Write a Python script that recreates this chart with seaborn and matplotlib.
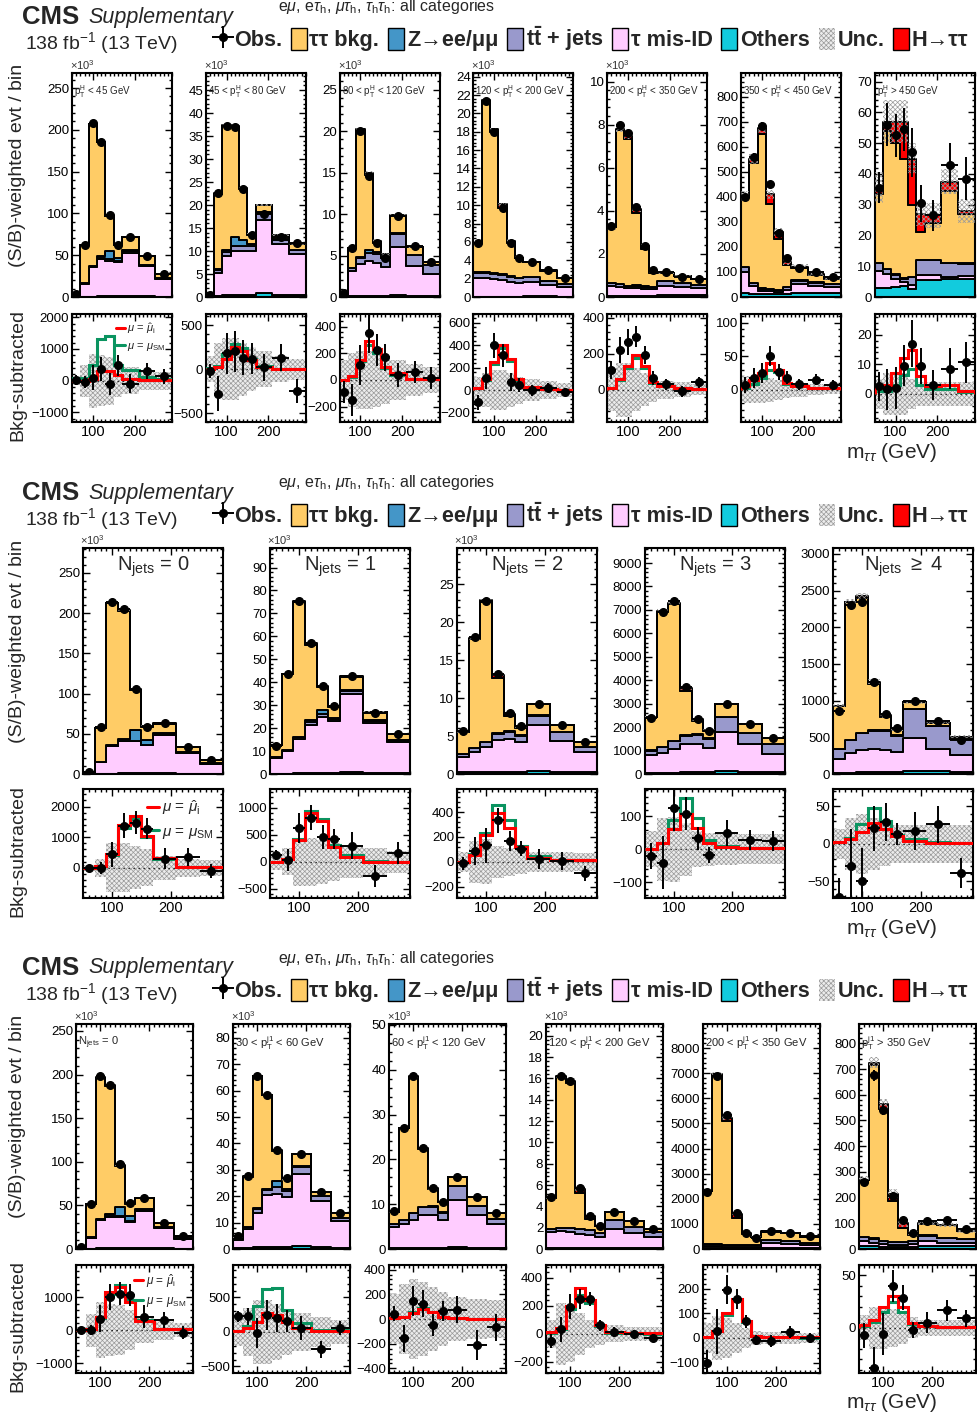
import numpy as np
import pandas as pd
import matplotlib
matplotlib.use("Agg")
import matplotlib.pyplot as plt
from matplotlib.ticker import MultipleLocator, AutoMinorLocator
from matplotlib.patches import Patch
import seaborn as sns

# ---------------------------------------------------------------- binning
EDGES = [50, 70, 90, 110, 130, 150, 170, 210, 250, 290]
MASS = [60, 80, 100, 120, 140, 160, 190, 230, 270]

# ---------------------------------------------------------------- pT(H) bins
PTH_LABELS = [r"p$_\mathrm{T}^\mathrm{H}$ < 45 GeV", r"45 < p$_\mathrm{T}^\mathrm{H}$ < 80 GeV",
              r"80 < p$_\mathrm{T}^\mathrm{H}$ < 120 GeV", r"120 < p$_\mathrm{T}^\mathrm{H}$ < 200 GeV",
              r"200 < p$_\mathrm{T}^\mathrm{H}$ < 350 GeV", r"350 < p$_\mathrm{T}^\mathrm{H}$ < 450 GeV",
              r"p$_\mathrm{T}^\mathrm{H}$ > 450 GeV"]
PTH_SCALE = [1000, 1000, 1000, 1000, 1000, 1, 1]
PTH_OBS = [[3, 62, 208, 186, 98, 62, 72, 49, 28],
           [0.5, 22.6, 37.2, 37, 23.5, 13.5, 18, 13, 11.7],
           [0.5, 5.9, 20, 14.6, 6.5, 4.7, 9.8, 6.1, 4.2],
           [5.9, 21.4, 18, 9.7, 5.9, 4.2, 3.8, 2.9, 2.1],
           [3.3, 8.0, 7.6, 4.2, 2.35, 1.25, 1.15, 0.95, 0.85],
           [400, 560, 685, 450, 255, 155, 115, 100, 80],
           [35.5, 56, 52.5, 54.5, 47, 30.5, 26.5, 43, 38.5]]
PTH_ZTT = [[1.5, 45.4, 169.5, 135.5, 42, 15.5, 15.8, 10.4, 4.5],
           [0.15, 16.5, 27, 24, 11, 2, 1.5, 0.8, 1.2],
           [0.2, 2.35, 15.2, 9.0, 1.1, 0.3, 2.1, 1.0, 0.4],
           [3.2, 18.7, 15.4, 7.2, 3.6, 2.1, 1.6, 1.1, 0.65],
           [2.57, 7.14, 6.82, 3.34, 1.74, 0.65, 0.37, 0.31, 0.24],
           [279, 480, 616, 339, 201, 88, 49, 29, 22],
           [22.4, 44.9, 42.6, 38.9, 23.4, 8.9, 11.9, 23.3, 16.1]]
PTH_ZLL = [[0.1, 0.3, 0.8, 2.5, 10, 3.5, 1.5, 0.6, 0.3],
           [0, 0.2, 0.5, 2, 1.5, 0.5, 0.3, 0.2, 0.1],
           [0, 0.05, 0.1, 0.3, 0.3, 0.1, 0.05, 0.02, 0.01],
           [0.02, 0.02, 0.05, 0.1, 0.1, 0.05, 0.02, 0.02, 0.01],
           [0.01, 0.01, 0.01, 0.02, 0.02, 0.01, 0.01, 0.01, 0.01],
           [1, 1, 1, 1, 1, 1, 1, 1, 1],
           [0.1, 0.1, 0.1, 0.1, 0.1, 0.1, 0.1, 0.1, 0.1]]
PTH_TT = [[0.2, 0.5, 1.0, 1.4, 1.4, 1.4, 1.8, 1.4, 0.8],
          [0.1, 0.5, 0.8, 1.0, 1.0, 1.0, 1.4, 1.0, 0.8],
          [0.05, 0.4, 0.8, 1.0, 1.0, 1.0, 1.6, 1.3, 1.0],
          [0.6, 0.6, 0.6, 0.55, 0.5, 0.5, 0.6, 0.5, 0.4],
          [0.15, 0.15, 0.12, 0.12, 0.12, 0.12, 0.2, 0.18, 0.15],
          [20, 12, 8, 8, 8, 12, 15, 12, 10],
          [2.5, 1.5, 1.5, 1.0, 2.5, 5.0, 5.0, 4.5, 4.0]]
PTH_FAKE = [[0.5, 15.5, 35, 45, 43, 41, 52, 36, 21.5],
            [0.2, 5, 8.5, 9.5, 9.5, 9.5, 16, 11, 9],
            [0.2, 3.0, 3.8, 4.2, 4.0, 3.5, 5.8, 3.6, 2.7],
            [2.0, 2.0, 1.9, 1.8, 1.6, 1.5, 1.5, 1.2, 1.0],
            [0.45, 0.4, 0.35, 0.35, 0.3, 0.3, 0.45, 0.4, 0.35],
            [85, 30, 15, 12, 10, 15, 35, 30, 25],
            [5.5, 4.5, 2.5, 1.5, 1.5, 1.5, 1.5, 0.8, 1.0]]
PTH_OTH = [[0.1, 0.3, 0.5, 0.6, 0.6, 0.6, 0.9, 0.6, 0.4],
           [0.05, 0.3, 0.4, 0.5, 0.5, 0.5, 0.8, 0.5, 0.4],
           [0.02, 0.1, 0.15, 0.15, 0.15, 0.15, 0.25, 0.15, 0.1],
           [0.05, 0.05, 0.05, 0.05, 0.05, 0.05, 0.08, 0.06, 0.05],
           [0.05, 0.05, 0.05, 0.05, 0.05, 0.05, 0.08, 0.07, 0.07],
           [15, 12, 10, 10, 10, 12, 15, 15, 15],
           [3, 3, 3.3, 3.5, 2.5, 5.5, 5.5, 5.8, 5.8]]
PTH_SUB = [[30, -40, 100, 380, -95, 480, -95, 295, 137],
           [-20, -280, 180, 200, 130, 120, 20, 130, -250],
           [-90, -150, 110, 350, 225, 170, 40, 60, 15],
           [-110, 110, 400, 310, 70, 45, 0, 20, -20],
           [110, 220, 265, 295, 195, 65, 30, -10, 40],
           [7, 18, 25, 50, 27, 18, 8, 15, 7],
           [2.5, 1.5, 2, 9.5, 17, 9.5, 3, 8.5, 10.7]]
PTH_ERR = [[150, 200, 380, 380, 350, 330, 300, 250, 230],
           [80, 200, 230, 230, 200, 180, 150, 150, 140],
           [80, 120, 150, 150, 120, 100, 90, 80, 80],
           [70, 100, 110, 100, 80, 60, 50, 40, 35],
           [50, 70, 70, 60, 50, 40, 30, 30, 30],
           [12, 15, 15, 15, 12, 10, 8, 8, 7],
           [5, 7, 7, 7, 8, 6, 5, 7, 7]]
PTH_FIT = [[0, 0, 60, 300, 300, 170, 60, 20, 20],
           [0, 20, 120, 250, 200, 100, 20, 5, 0],
           [0, 30, 150, 290, 230, 100, 50, 10, 5],
           [20, 100, 250, 400, 280, 100, 30, 10, 5],
           [10, 60, 130, 190, 130, 40, 20, 10, 5],
           [5, 15, 25, 40, 30, 10, 5, 3, 2],
           [2, 3, 7, 12, 15, 6, 2.5, 3, 1]]
PTH_SM = [[80, 80, 500, 1300, 1420, 500, 350, 115, 60],
          [10, 40, 170, 280, 240, 120, 30, 5, 0],
          [0, 25, 140, 260, 200, 90, 40, 8, 4],
          [15, 90, 230, 380, 260, 90, 25, 8, 4],
          [8, 55, 120, 175, 120, 35, 18, 8, 4],
          [2, 9, 18, 30, 26, 9, 5, 3, 2],
          [1, 1, 3, 6.5, 8.5, 3, 1.5, 1.5, 0.8]]
PTH_UNC = [[150, 500, 850, 800, 750, 520, 420, 280, 280],
           [150, 300, 350, 350, 300, 250, 200, 150, 120],
           [150, 200, 220, 220, 200, 180, 150, 120, 100],
           [120, 150, 180, 180, 150, 120, 100, 80, 60],
           [120, 150, 150, 120, 90, 70, 50, 40, 30],
           [20, 20, 20, 18, 15, 12, 10, 8, 6],
           [5, 7, 7, 7, 5, 4, 4, 4, 4]]

# ---------------------------------------------------------------- N(jets) bins
NJ_LABELS = [r"N$_\mathrm{jets}$ = 0", r"N$_\mathrm{jets}$ = 1", r"N$_\mathrm{jets}$ = 2",
             r"N$_\mathrm{jets}$ = 3", r"N$_\mathrm{jets}$ $\geq$ 4"]
NJ_SCALE = [1000, 1000, 1000, 1, 1]
NJ_OBS = [[3, 58, 214, 205, 106, 59, 64, 33, 17],
          [12, 43.5, 75.5, 57, 38.5, 29.5, 42.5, 26.5, 17.5],
          [5.7, 18, 22.8, 13.2, 8.1, 6.3, 9.2, 6.4, 4.2],
          [2400, 6900, 7400, 3700, 2350, 1850, 3000, 2150, 1550],
          [860, 2300, 2340, 1260, 820, 630, 990, 720, 470]]
NJ_ZTT = [[0.8, 42.1, 176.6, 158.8, 50, 16.2, 11.7, 5.4, 3.7],
          [5.1, 32.9, 58.8, 32.7, 9.8, 4.7, 5.8, 3.5, 2.8],
          [2.9, 14.45, 18.45, 7.15, 2.0, 1.0, 1.5, 1.0, 0.6],
          [1415, 5771, 5818, 1882, 576, 321, 557, 387, 252],
          [586, 1880, 1839, 634, 180, 75, 91, 46, 27]]
NJ_ZLL = [[0, 0.3, 0.8, 2.5, 13, 6.5, 1.0, 0.4, 0.2],
          [0, 0, 0.3, 0.8, 1.8, 0.5, 0.3, 0.2, 0.1],
          [0, 0, 0.05, 0.15, 0.2, 0.1, 0.05, 0, 0],
          [5, 10, 20, 30, 40, 20, 15, 10, 5],
          [2, 3, 5, 8, 10, 5, 5, 3, 2]]
NJ_TT = [[0.05, 0.2, 0.5, 0.6, 0.6, 0.6, 1.0, 0.6, 0.3],
         [0.3, 0.4, 0.7, 1.2, 1.2, 1.0, 1.3, 1.2, 0.8],
         [0.3, 0.5, 0.7, 0.8, 0.9, 0.8, 1.3, 1.1, 0.7],
         [200, 250, 320, 370, 380, 370, 620, 480, 400],
         [130, 180, 230, 250, 260, 220, 390, 310, 220]]
NJ_FAKE = [[0.3, 14, 34, 40, 40, 35, 48, 26, 12.5],
           [7, 10, 15, 21, 24.5, 22.5, 34, 21.5, 13.5],
           [2.1, 2.65, 3.25, 4.2, 4.3, 3.9, 6.0, 4.1, 2.65],
           [760, 850, 1020, 1190, 1190, 1050, 1690, 1180, 790],
           [195, 260, 305, 315, 300, 270, 445, 305, 230]]
NJ_OTH = [[0.05, 0.3, 0.6, 0.7, 0.7, 0.7, 1.0, 0.6, 0.3],
          [0.1, 0.2, 0.3, 0.4, 0.5, 0.5, 1.0, 0.6, 0.3],
          [0.2, 0.25, 0.25, 0.3, 0.3, 0.3, 0.4, 0.3, 0.25],
          [40, 50, 60, 70, 80, 80, 110, 90, 80],
          [15, 20, 25, 25, 30, 30, 45, 35, 30]]
NJ_SUB = [[0, 0, 440, 1380, 1470, 1280, 300, 360, -100],
          [130, 37, 630, 815, 463, 425, 296, -260, 167],
          [-13, 88, 133, 333, 165, 107, 24, 8, -93],
          [-21, -41, 124, 108, 34, -18, 49, 29, 26],
          [-71, -30, -50, 21, 29, 13, 17, 26, -39]]
NJ_ERR = [[100, 200, 400, 400, 380, 350, 350, 300, 220],
          [100, 200, 270, 230, 220, 180, 250, 200, 200],
          [50, 110, 140, 100, 80, 60, 80, 70, 60],
          [40, 80, 70, 50, 35, 25, 40, 30, 30],
          [25, 50, 45, 30, 25, 15, 25, 25, 20]]
NJ_FIT = [[0, 50, 450, 1400, 1700, 1050, 330, 30, 20],
          [0, 50, 400, 900, 750, 280, 100, 0, 0],
          [0, 53, 213, 395, 275, 120, 35, 13, 13],
          [0, 19, 62, 108, 64, 19, 8, 3, 3],
          [2, 7, 16, 28, 20, 10, 4, 1, 1]]
NJ_SM = [[0, 50, 420, 1300, 1600, 1000, 300, 30, 15],
         [0, 50, 420, 950, 800, 320, 120, 10, 5],
         [0, 60, 235, 460, 340, 130, 45, 13, 13],
         [0, 20, 89, 155, 96, 29, 11, 3, 3],
         [2, 8, 26, 48, 30, 12, 6, 2, 1]]
NJ_UNC = [[100, 300, 800, 800, 700, 600, 400, 300, 250],
          [150, 250, 450, 450, 400, 350, 300, 250, 200],
          [80, 170, 180, 130, 110, 100, 80, 80, 70],
          [54, 95, 98, 80, 55, 50, 48, 45, 45],
          [20, 35, 40, 35, 30, 25, 25, 25, 25]]

# ---------------------------------------------------------------- leading-jet pT bins
PTJ_LABELS = [r"N$_\mathrm{jets}$ = 0", r"30 < p$_\mathrm{T}^\mathrm{j1}$ < 60 GeV",
              r"60 < p$_\mathrm{T}^\mathrm{j1}$ < 120 GeV", r"120 < p$_\mathrm{T}^\mathrm{j1}$ < 200 GeV",
              r"200 < p$_\mathrm{T}^\mathrm{j1}$ < 350 GeV", r"p$_\mathrm{T}^\mathrm{j1}$ > 350 GeV"]
PTJ_SCALE = [1000, 1000, 1000, 1000, 1, 1]
PTJ_OBS = [[2, 52, 198, 188, 97, 53, 59, 30, 15],
           [5, 27.5, 65.5, 58.5, 37.5, 27, 36, 21.5, 13.5],
           [8.5, 27, 38.5, 22.5, 13.5, 10.5, 16, 11.5, 8],
           [4.9, 16.2, 15.8, 5.7, 3.1, 2.2, 3.5, 2.6, 1.9],
           [2250, 6900, 5350, 1450, 650, 450, 700, 620, 500],
           [262, 675, 540, 205, 112, 62, 108, 112, 78]]
PTJ_ZTT = [[0.7, 38.4, 162.4, 146.5, 46.9, 14.35, 13, 4.7, 2.6],
           [0.5, 18.9, 50, 35.4, 11.45, 3.8, 4.6, 1.3, 1.8],
           [2.8, 20.5, 30.4, 13.0, 3.94, 2.28, 1.95, 2.0, 1.2],
           [2.93, 14.2, 13.63, 3.39, 1.07, 0.62, 0.76, 0.49, 0.31],
           [2083, 6728, 4953, 1093, 433, 308, 343, 335, 236],
           [221, 676, 514, 158, 53, 24, 45, 50, 31]]
PTJ_ZLL = [[0, 0.5, 1, 2.5, 10, 6, 1, 0.3, 0.1],
           [0, 0.1, 0.3, 0.5, 2.5, 0.5, 0.2, 0.1, 0],
           [0, 0, 0.05, 0.1, 0.2, 0.1, 0.05, 0, 0],
           [0.01, 0.01, 0.02, 0.03, 0.04, 0.02, 0.01, 0.01, 0.01],
           [2, 2, 2, 2, 2, 2, 2, 2, 2],
           [1, 1, 1, 1, 1, 1, 1, 1, 1]]
PTJ_TT = [[0.05, 0.3, 0.5, 1.0, 1.0, 1.0, 1.5, 0.7, 0.4],
          [0.5, 0.8, 1.5, 2, 2.5, 2.3, 2.8, 1.8, 1.2],
          [0.5, 1.0, 1.5, 1.8, 1.8, 1.6, 3.0, 2.0, 1.3],
          [0.25, 0.3, 0.4, 0.4, 0.4, 0.4, 0.8, 0.6, 0.5],
          [80, 80, 60, 60, 60, 70, 120, 110, 100],
          [15, 15, 12, 10, 10, 12, 20, 18, 15]]
PTJ_FAKE = [[0.4, 12.5, 32, 36, 36, 30, 42, 23.5, 11.5],
            [3.2, 7.2, 13, 19.5, 20, 19, 27, 17.5, 10],
            [4.8, 5.3, 6.2, 7.2, 7.2, 6.2, 10.5, 7.2, 5.3],
            [1.55, 1.6, 1.5, 1.4, 1.3, 1.05, 1.8, 1.4, 1.0],
            [100, 80, 60, 60, 60, 60, 180, 150, 100],
            [20, 15, 10, 8, 8, 10, 20, 15, 12]]
PTJ_OTH = [[0.05, 0.3, 0.7, 0.8, 0.8, 0.8, 1.2, 0.8, 0.4],
           [0.3, 0.4, 0.6, 0.8, 0.8, 0.8, 1.3, 0.8, 0.5],
           [0.2, 0.2, 0.3, 0.3, 0.3, 0.3, 0.5, 0.3, 0.2],
           [0.05, 0.05, 0.05, 0.05, 0.05, 0.05, 0.12, 0.1, 0.08],
           [30, 30, 25, 25, 25, 30, 50, 40, 40],
           [10, 10, 8, 8, 8, 8, 12, 10, 10]]
PTJ_SUB = [[0, 0, 350, 1000, 1100, 1050, 400, 300, -80],
           [224, 224, -14, 248, 200, 152, 57, -252, 57],
           [43, -155, 145, 125, -46, 62, 76, -208, -68],
           [-53, 32, 195, 248, 252, 60, 12, 0, -29],
           [-100, 27, 196, 157, 67, -9, -13, 24, 0],
           [-7, -38, -6, 40, 29, -2, 5, 17, 9]]
PTJ_ERR = [[100, 150, 400, 380, 350, 330, 350, 250, 200],
           [80, 120, 220, 220, 200, 160, 180, 120, 100],
           [60, 110, 120, 110, 90, 80, 110, 120, 110],
           [50, 90, 90, 70, 50, 40, 35, 30, 30],
           [50, 90, 60, 40, 25, 20, 25, 25, 20],
           [12, 20, 20, 15, 12, 8, 10, 10, 8]]
PTJ_FIT = [[0, 30, 400, 1150, 1300, 850, 280, 30, 20],
           [10, 57, 150, 270, 250, 140, 57, 20, 20],
           [5, 20, 50, 80, 60, 20, 5, 3, 2],
           [10, 40, 200, 330, 240, 60, 10, 5, 3],
           [5, 30, 100, 160, 70, 10, 5, 3, 2],
           [3, 8, 20, 30, 20, 5, 2, 1, 1]]
PTJ_SM = [[0, 30, 380, 1100, 1350, 900, 300, 30, 20],
          [10, 80, 370, 615, 640, 320, 130, 25, 25],
          [5, 20, 60, 90, 55, 20, 5, 3, 2],
          [8, 35, 180, 280, 220, 55, 8, 4, 2],
          [4, 28, 95, 150, 65, 9, 4, 2, 1],
          [2, 6, 15, 25, 15, 4, 2, 1, 1]]
PTJ_UNC = [[100, 500, 850, 800, 750, 600, 400, 300, 200],
           [200, 350, 470, 470, 400, 330, 280, 220, 180],
           [200, 280, 320, 300, 260, 220, 180, 160, 150],
           [100, 220, 200, 150, 100, 80, 60, 50, 50],
           [60, 90, 80, 60, 40, 30, 25, 25, 20],
           [12, 20, 20, 18, 15, 10, 8, 8, 8]]

# ---------------------------------------------------------------- style
sns.set_style("ticks")
plt.rcParams["font.family"] = ["Liberation Sans", "DejaVu Sans"]
plt.rcParams["mathtext.fontset"] = "custom"
plt.rcParams["mathtext.rm"] = "Liberation Sans"
plt.rcParams["mathtext.it"] = "Liberation Sans:italic"
plt.rcParams["mathtext.bf"] = "Liberation Sans:bold"
plt.rcParams["hatch.linewidth"] = 0.5
plt.rcParams["hatch.color"] = "#9a9a9a"

ORDER = ["H", "ztt", "zll", "tt", "fake", "oth"]  # drawn top of stack first
PALETTE = {"H": "#FF0000", "ztt": "#FFCC66", "zll": "#4496C8",
           "tt": "#9999CC", "fake": "#FFCCFF", "oth": "#12CBDD"}
RED, GREEN = "#FF0000", "#0A9460"
HATCH = "xxxxxxx"
BAND_FACE = "#ececec"

W, H = 977, 1420
fig = plt.figure(figsize=(W / 100, H / 100), dpi=100)


def box(left, top, width, height):
    return [left / W, 1 - (top + height) / H, width / W, height / H]


def step_y(vals):
    vals = list(vals)
    return vals + [vals[-1]]


def finish_axis(ax, xlabels):
    ax.set_xlim(EDGES[0], EDGES[-1])
    ax.xaxis.set_major_locator(MultipleLocator(100))
    ax.xaxis.set_minor_locator(MultipleLocator(10))
    ax.yaxis.set_minor_locator(AutoMinorLocator(5))
    ax.tick_params(which="both", direction="in", top=True, right=True,
                   width=1, labelsize=9.5, pad=2, colors="black")
    ax.tick_params(which="major", length=5)
    ax.tick_params(which="minor", length=2.5)
    ax.tick_params(axis="x", labelbottom=xlabels, labelsize=10.5)
    ax.set_xlabel("")
    ax.set_ylabel("")
    for s in ax.spines.values():
        s.set_linewidth(1.5)
        s.set_color("black")


HALF = [(EDGES[i + 1] - EDGES[i]) / 2 for i in range(len(MASS))]


def draw_group(off, lefts, width, tops, g):
    top_y, top_h, bot_y, bot_h = tops
    obs_handle = None
    for i, left in enumerate(lefts):
        scale = g["scale"][i]
        # ---- stacked expectation
        ax = fig.add_axes(box(left, top_y, width, top_h))
        comps = {"H": np.array(g["fit"][i], float) / scale, "ztt": g["ztt"][i],
                 "zll": g["zll"][i], "tt": g["tt"][i], "fake": g["fake"][i],
                 "oth": g["oth"][i]}
        df = pd.DataFrame([(m, float(v), p) for p in ORDER for m, v in zip(MASS, comps[p])],
                          columns=["mass", "weight", "process"])
        sns.histplot(data=df, x="mass", weights="weight", hue="process",
                     hue_order=ORDER, palette=PALETTE, bins=EDGES,
                     multiple="stack", element="step", alpha=1,
                     edgecolor="black", linewidth=1.4, legend=False, ax=ax)
        total = sum(np.array(comps[p], float) for p in ORDER)
        unc = np.array(g["unc"][i], float) / scale
        ax.fill_between(EDGES, step_y(total - unc), step_y(total + unc), step="post",
                        facecolor="none", edgecolor="#9a9a9a", hatch=HATCH,
                        linewidth=0, zorder=3)
        cont = ax.errorbar(MASS, g["obs"][i], yerr=np.array(g["err"][i], float) / scale,
                           xerr=HALF, fmt="o", color="black", ms=5.5,
                           elinewidth=1.4, capsize=0, zorder=6)
        if obs_handle is None:
            obs_handle = cont
        ax.set_ylim(0, g["ymax"][i])
        ax.yaxis.set_major_locator(MultipleLocator(g["ystep"][i]))
        finish_axis(ax, False)
        if scale != 1:
            ax.text(-0.02, 1.003, r"$\times$10$^{3}$", transform=ax.transAxes,
                    fontsize=8, color="#333333", ha="left", va="bottom")
        if g["big_label"][i]:
            ax.text(0.5, 0.915, g["labels"][i], transform=ax.transAxes,
                    fontsize=14.5, ha="center", va="center")
        else:
            ax.text(0.02, 0.915, g["labels"][i], transform=ax.transAxes,
                    fontsize=g["label_size"], ha="left", va="center")

        # ---- background-subtracted panel
        bx = fig.add_axes(box(left, bot_y, width, bot_h))
        u = np.array(g["unc"][i], float)
        bx.fill_between(EDGES, step_y(-u), step_y(u), step="post",
                        facecolor=BAND_FACE, edgecolor="#9a9a9a", hatch=HATCH,
                        linewidth=0, zorder=1)
        bx.axhline(0, color="black", ls=(0, (1, 3)), lw=0.9, zorder=2)
        bx.stairs(g["sm"][i], EDGES, color=GREEN, lw=2.2, zorder=3,
                  label=r"$\mu$ = $\mu_\mathrm{SM}$")
        bx.stairs(g["fit"][i], EDGES, color=RED, lw=2.2, zorder=4,
                  label=r"$\mu$ = $\hat{\mu}_\mathrm{i}$")
        bx.errorbar(MASS, g["sub"][i], yerr=g["err"][i], xerr=HALF, fmt="o",
                    color="black", ms=5.5, elinewidth=1.4, capsize=0, zorder=6)
        bx.set_ylim(*g["rlim"][i])
        bx.yaxis.set_major_locator(MultipleLocator(g["rstep"][i]))
        finish_axis(bx, True)
        if i == 0:
            h, l = bx.get_legend_handles_labels()
            bx.legend(h[::-1], l[::-1], loc="upper right", frameon=False,
                      fontsize=g["leg_size"], handlelength=0.8, handletextpad=0.2,
                      labelspacing=0.5, borderaxespad=0.2)

    # ---- header
    fig.text(22 / W, 1 - (17 + off) / H, "CMS", fontsize=18.5, fontweight="bold",
             ha="left", va="center")
    fig.text(88 / W, 1 - (17 + off) / H, "Supplementary", fontsize=15.5,
             style="italic", ha="left", va="center")
    fig.text(25 / W, 1 - (43 + off) / H, r"138 fb$^{-1}$ (13 TeV)", fontsize=14,
             ha="left", va="center")
    fig.text(278 / W, 1 - (7 + off) / H,
             r"e$\mu$, e$\tau_\mathrm{h}$, $\mu\tau_\mathrm{h}$, $\tau_\mathrm{h}\tau_\mathrm{h}$: all categories",
             fontsize=11.5, ha="left", va="center")
    handles = [obs_handle] + [Patch(facecolor=PALETTE[p], edgecolor="black", lw=1)
                              for p in ["ztt", "zll", "tt", "fake", "oth"]]
    handles += [Patch(facecolor=BAND_FACE, edgecolor="#9a9a9a", hatch=HATCH, lw=0),
                Patch(facecolor=PALETTE["H"], edgecolor="black", lw=1)]
    labels = ["Obs.", "\u03c4\u03c4 bkg.", "Z\u2192ee/\u03bc\u03bc",
              r"$\mathbf{t\bar{t}}$ + jets", "\u03c4 mis-ID", "Others", "Unc.",
              "H\u2192\u03c4\u03c4"]
    fig.legend(handles, labels, loc="center left",
               bbox_to_anchor=(215 / W, 1 - (39 + off) / H), ncol=8, frameon=False,
               prop={"weight": "bold", "size": 15.6}, handlelength=0.75,
               handleheight=1.2, handletextpad=0.12, columnspacing=0.4,
               borderpad=0, borderaxespad=0)
    fig.text(18 / W, 1 - (165 + off) / H, "(S/B)-weighted evt / bin", rotation=90,
             fontsize=14, ha="center", va="center")
    fig.text(18 / W, 1 - (375 + off) / H, "Bkg-subtracted", rotation=90,
             fontsize=14, ha="center", va="center")
    fig.text(937 / W, 1 - (452 + off) / H, r"m$_{\tau\tau}$ (GeV)", fontsize=15,
             ha="right", va="center")


groups = [
    dict(off=0, lefts=[72 + 133.8 * k for k in range(7)], width=100,
         tops=(73, 224, 314, 108), labels=PTH_LABELS, scale=PTH_SCALE,
         obs=PTH_OBS, ztt=PTH_ZTT, zll=PTH_ZLL, tt=PTH_TT, fake=PTH_FAKE, oth=PTH_OTH,
         sub=PTH_SUB, err=PTH_ERR, fit=PTH_FIT, sm=PTH_SM, unc=PTH_UNC,
         ymax=[268, 48.7, 27, 24.4, 10.4, 895, 72.8], ystep=[50, 5, 5, 2, 2, 100, 10],
         rlim=[(-1300, 2100), (-600, 625), (-315, 495), (-285, 680), (-180, 420),
               (-48, 113), (-9.5, 27)],
         rstep=[1000, 500, 200, 200, 200, 50, 10],
         big_label=[False] * 7, label_size=7, leg_size=8),
    dict(off=476, lefts=[83, 270, 457, 645, 833], width=140,
         tops=(548, 226, 789, 109), labels=NJ_LABELS, scale=NJ_SCALE,
         obs=NJ_OBS, ztt=NJ_ZTT, zll=NJ_ZLL, tt=NJ_TT, fake=NJ_FAKE, oth=NJ_OTH,
         sub=NJ_SUB, err=NJ_ERR, fit=NJ_FIT, sm=NJ_SM, unc=NJ_UNC,
         ymax=[281, 98.5, 29.8, 9640, 3080], ystep=[50, 10, 5, 1000, 500],
         rlim=[(-980, 2570), (-667, 1350), (-290, 585), (-148, 183), (-72, 73)],
         rstep=[1000, 500, 200, 100, 50],
         big_label=[True] * 5, label_size=7, leg_size=11),
    dict(off=951, lefts=[76, 233, 389, 546, 702.5, 859], width=117,
         tops=(1024, 225, 1265, 108), labels=PTJ_LABELS, scale=PTJ_SCALE,
         obs=PTJ_OBS, ztt=PTJ_ZTT, zll=PTJ_ZLL, tt=PTJ_TT, fake=PTJ_FAKE, oth=PTJ_OTH,
         sub=PTJ_SUB, err=PTJ_ERR, fit=PTJ_FIT, sm=PTJ_SM, unc=PTJ_UNC,
         ymax=[258, 85.2, 50.2, 21.1, 8960, 875], ystep=[50, 10, 10, 2, 1000, 100],
         rlim=[(-1300, 1970), (-595, 970), (-437, 437), (-280, 493), (-142, 296),
               (-43, 60)],
         rstep=[1000, 500, 200, 200, 100, 50],
         big_label=[False] * 6, label_size=8, leg_size=8.5),
]

for g in groups:
    draw_group(g["off"], g["lefts"], g["width"], g["tops"], g)

fig.savefig("out.png", dpi=100)
